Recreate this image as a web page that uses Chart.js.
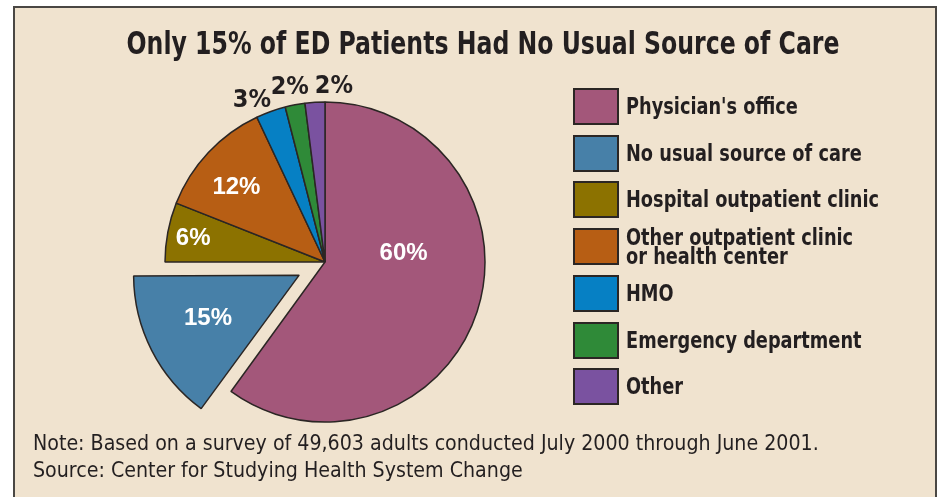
<!DOCTYPE html>
<html>
<head>
<meta charset="utf-8">
<script src="https://cdn.jsdelivr.net/npm/chart.js@4.4.1/dist/chart.umd.min.js"></script>
<style>
  html, body { margin: 0; padding: 0; background: #ffffff; }
  #wrap { position: relative; width: 940px; height: 497px; overflow: hidden; }
  #frame {
    position: absolute; left: 13px; top: 6px; width: 924px; height: 520px;
    background: #f0e3cf; border: 2px solid #4a4744; box-sizing: border-box;
  }
  #chart { position: absolute; left: 0; top: 0; }
  #title {
    position: absolute; left: 483px; top: 24px; transform: translateX(-50%) scaleX(0.82);
    font-family: "Liberation Sans Narrow", "DejaVu Sans Condensed", sans-serif;
    font-weight: bold; font-size: 32px; color: #231f20; white-space: nowrap;
  }
  #legend { position: absolute; left: 573px; top: 88px; }
  .row { position: absolute; left: 0; height: 37px; white-space: nowrap; }
  .box { position: absolute; left: 0; top: 0; width: 46px; height: 37px; box-sizing: border-box; border: 2px solid #2b2624; }
  .lbl {
    position: absolute; left: 53px; top: 0; height: 37px; display: flex; align-items: center;
    transform: scaleX(0.84); transform-origin: left center;
    font-family: "Liberation Sans Narrow", "DejaVu Sans Condensed", sans-serif;
    font-weight: bold; font-size: 23.5px; line-height: 19px; color: #231f20;
  }
  .note {
    position: absolute; left: 33px;
    font-family: "Liberation Sans Narrow", "DejaVu Sans Condensed", sans-serif;
    font-size: 21.2px; color: #231f20; white-space: nowrap;
  }
</style>
</head>
<body>
<div id="wrap">
  <div id="frame"></div>
  <canvas id="chart" width="940" height="497"></canvas>
  <div id="title">Only 15% of ED Patients Had No Usual Source of Care</div>
  <div id="legend"></div>
  <div class="note" style="top:430px">Note: Based on a survey of 49,603 adults conducted July 2000 through June 2001.</div>
  <div class="note" style="top:457px">Source: Center for Studying Health System Change</div>
</div>
<script>
// Datos
const categories = [
  "Physician's office",
  'No usual source of care',
  'Hospital outpatient clinic',
  'Other outpatient clinic\nor health center',
  'HMO',
  'Emergency department',
  'Other'
];
const shares = [60, 15, 6, 12, 3, 2, 2];

// Colores y estilo
const COLORS = ['#a3577a', '#4780a8', '#8c7200', '#b75e14', '#0680c4', '#2f8a38', '#7a52a0'];
const EXPLODE = [0, 29, 0, 0, 0, 0, 0];   // desplazamiento real en px
// colocación de etiquetas: radio desde el centro y giro en grados
const LABEL_R = [79, 101, 134, 116, 177, 178, 176];
const LABEL_TURN = [-24, 1.5, -0.5, -3, -4.6, -0.6, 6.5];
const LABEL_INSIDE = [true, true, true, true, false, false, false];

// Leyenda HTML
const legend = document.getElementById('legend');
categories.forEach((name, i) => {
  const row = document.createElement('div');
  row.className = 'row';
  row.style.top = (i * 46.7) + 'px';
  row.innerHTML = '<div class="box" style="background:' + COLORS[i] + '"></div>' +
    '<div class="lbl">' + name.replace('\n', '<br>') + '</div>';
  legend.appendChild(row);
});

// Etiquetas de porcentaje
const pctLabels = {
  id: 'pctLabels',
  afterDatasetsDraw(chart) {
    const ctx = chart.ctx;
    const arcs = chart.getDatasetMeta(0).data;
    ctx.save();
    ctx.textAlign = 'center';
    ctx.textBaseline = 'middle';
    arcs.forEach((arc, i) => {
      const mid = (arc.startAngle + arc.endAngle) / 2;
      const cx = arc.x + Math.cos(mid) * EXPLODE[i];
      const cy = arc.y + Math.sin(mid) * EXPLODE[i];
      const a = mid + LABEL_TURN[i] * Math.PI / 180;
      const x = cx + Math.cos(a) * LABEL_R[i];
      const y = cy + Math.sin(a) * LABEL_R[i];
      if (LABEL_INSIDE[i]) {
        ctx.font = 'bold 24px "Liberation Sans", Arial, sans-serif';
        ctx.fillStyle = '#ffffff';
      } else {
        ctx.font = 'bold 25px "Liberation Sans Narrow", "DejaVu Sans Condensed", sans-serif';
        ctx.fillStyle = '#231f20';
      }
      ctx.fillText(shares[i] + '%', x, y);
    });
    ctx.restore();
  }
};

new Chart(document.getElementById('chart'), {
  type: 'pie',
  data: {
    labels: categories,
    datasets: [{
      data: shares,
      backgroundColor: COLORS,
      borderColor: '#2b2624',
      borderWidth: 1.5,
      offset: EXPLODE.map(v => v * 4), // Chart.js usa offset / 4
      clip: false
    }]
  },
  options: {
    responsive: false,
    animation: false,
    radius: 160,
    layout: { padding: { left: 165, right: 455, top: 102, bottom: 75 } },
    plugins: {
      legend: { display: false },
      tooltip: { enabled: false }
    }
  },
  plugins: [pctLabels]
});
</script>
</body>
</html>
